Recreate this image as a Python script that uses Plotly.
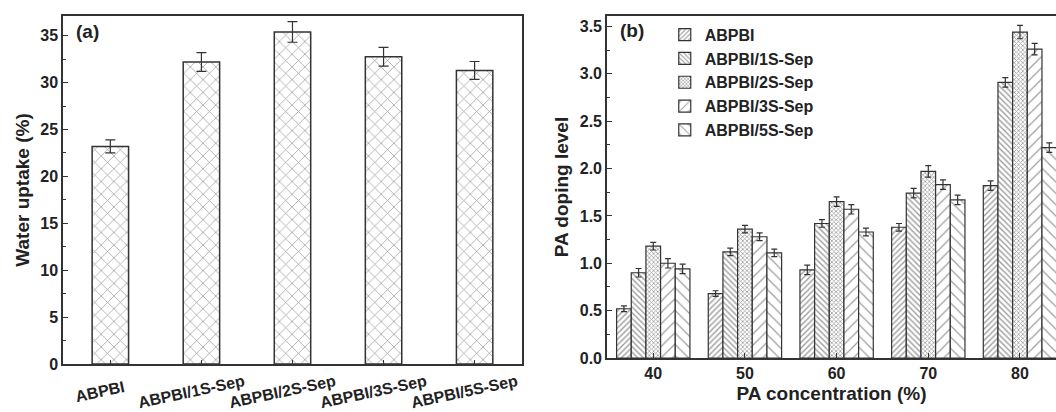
import plotly.graph_objects as go

# ---- data ----
samples = ["ABPBI", "ABPBI/1S-Sep", "ABPBI/2S-Sep", "ABPBI/3S-Sep", "ABPBI/5S-Sep"]
water_uptake = [23.2, 32.2, 35.4, 32.75, 31.3]
water_err = [0.7, 1.0, 1.1, 1.0, 0.95]

pa_conc = [40, 50, 60, 70, 80]
doping = {
    "ABPBI":        [0.52, 0.68, 0.93, 1.38, 1.82],
    "ABPBI/1S-Sep": [0.90, 1.12, 1.42, 1.74, 2.91],
    "ABPBI/2S-Sep": [1.18, 1.36, 1.65, 1.97, 3.44],
    "ABPBI/3S-Sep": [1.00, 1.28, 1.57, 1.83, 3.26],
    "ABPBI/5S-Sep": [0.94, 1.11, 1.33, 1.67, 2.22],
}
doping_err = {
    "ABPBI":        [0.03, 0.03, 0.05, 0.04, 0.05],
    "ABPBI/1S-Sep": [0.045, 0.04, 0.04, 0.05, 0.05],
    "ABPBI/2S-Sep": [0.04, 0.04, 0.05, 0.06, 0.07],
    "ABPBI/3S-Sep": [0.05, 0.04, 0.05, 0.05, 0.06],
    "ABPBI/5S-Sep": [0.05, 0.04, 0.04, 0.05, 0.05],
}

# ---- styles ----
patterns = {
    "ABPBI":        dict(shape="/", size=4, solidity=0.35),
    "ABPBI/1S-Sep": dict(shape="\\", size=4, solidity=0.35),
    "ABPBI/2S-Sep": dict(shape="x", size=3, solidity=0.45),
    "ABPBI/3S-Sep": dict(shape="/", size=8, solidity=0.15),
    "ABPBI/5S-Sep": dict(shape="\\", size=8, solidity=0.15),
}
INK = "#333333"
FG = "#3c3c3c"
FONT = "Liberation Sans, Arial, sans-serif"

fig = go.Figure()

xpos = list(range(len(samples)))
fig.add_trace(go.Bar(
    x=xpos, y=water_uptake, width=0.4,
    error_y=dict(type="data", array=water_err, color=INK, thickness=1.2, width=5),
    marker=dict(color="white", line=dict(color=INK, width=1.5),
                pattern=dict(shape="x", size=9, solidity=0.16, fgcolor=FG, bgcolor="white")),
    xaxis="x", yaxis="y", showlegend=False,
))

for name in samples:
    p = patterns[name]
    fig.add_trace(go.Bar(
        name=name, x=pa_conc, y=doping[name],
        error_y=dict(type="data", array=doping_err[name], color=INK, thickness=1.2, width=3),
        marker=dict(color="white", line=dict(color=INK, width=1.2),
                    pattern=dict(shape=p["shape"], size=p["size"], solidity=p["solidity"],
                                 fgcolor=FG, bgcolor="white")),
        xaxis="x2", yaxis="y2",
    ))

axis_common = dict(
    showline=True, linecolor=INK, linewidth=1.5, ticks="inside", ticklen=5,
    tickcolor=INK, tickwidth=1.2, showgrid=False, zeroline=False,
    tickfont=dict(family=FONT, size=16, color="#222", weight="bold"),
)
title_font = dict(family=FONT, size=19, color="#222", weight="bold")

# rotated category labels for panel (a)
annotations = [
    dict(text=s, xref="x", yref="y domain", x=i, y=-0.078, xshift=-10,
         xanchor="center", yanchor="middle", textangle=-12, showarrow=False,
         font=dict(family=FONT, size=16, color="#222", weight="bold"))
    for i, s in zip(xpos, samples)
]
annotations += [
    dict(text="(a)", xref="x domain", yref="y domain", x=0.024, y=0.99,
         xanchor="left", yanchor="top", showarrow=False,
         font=dict(family=FONT, size=19, color="#222", weight="bold")),
    dict(text="(b)", xref="x2 domain", yref="y2 domain", x=0.024, y=0.995,
         xanchor="left", yanchor="top", showarrow=False,
         font=dict(family=FONT, size=19, color="#222", weight="bold")),
]

fig.update_layout(
    width=1056, height=412,
    margin=dict(l=63, r=0, t=16, b=48),
    paper_bgcolor="white", plot_bgcolor="white",
    barmode="group", bargap=0.2, bargroupgap=0,
    font=dict(family=FONT, color="#222"),
    xaxis=dict(axis_common, domain=[0, 0.4622], range=[-0.52, 4.52], mirror=True,
               tickmode="array", tickvals=xpos, showticklabels=False,
               ticks="inside", ticklen=4),
    yaxis=dict(axis_common, domain=[0, 1], range=[0, 37.1], mirror=True,
               tickmode="array", tickvals=[0, 5, 10, 15, 20, 25, 30, 35],
               minor=dict(ticks="inside", ticklen=3, tickcolor=INK, dtick=2.5, showgrid=False),
               title=dict(text="Water uptake (%)", standoff=6, font=title_font)),
    xaxis2=dict(axis_common, domain=[0.5478, 1], range=[34.95, 83.93], mirror=True,
                anchor="y2", tickmode="array", tickvals=pa_conc,
                title=dict(text="PA concentration (%)", standoff=6, font=title_font)),
    yaxis2=dict(axis_common, domain=[0.0172, 1], range=[0, 3.61], mirror=False,
                anchor="x2", tickmode="array", tickvals=[0, 0.5, 1, 1.5, 2, 2.5, 3, 3.5],
                ticktext=["0.0", "0.5", "1.0", "1.5", "2.0", "2.5", "3.0", "3.5"],
                minor=dict(ticks="inside", ticklen=3, tickcolor=INK, dtick=0.25, showgrid=False),
                title=dict(text="PA doping level", standoff=6, font=title_font)),
    legend=dict(x=0.606, y=0.995, xanchor="left", yanchor="top",
                bgcolor="rgba(0,0,0,0)", tracegroupgap=0,
                font=dict(family=FONT, size=16, color="#222", weight="bold")),
    annotations=annotations,
)

fig.write_html("out.html")
